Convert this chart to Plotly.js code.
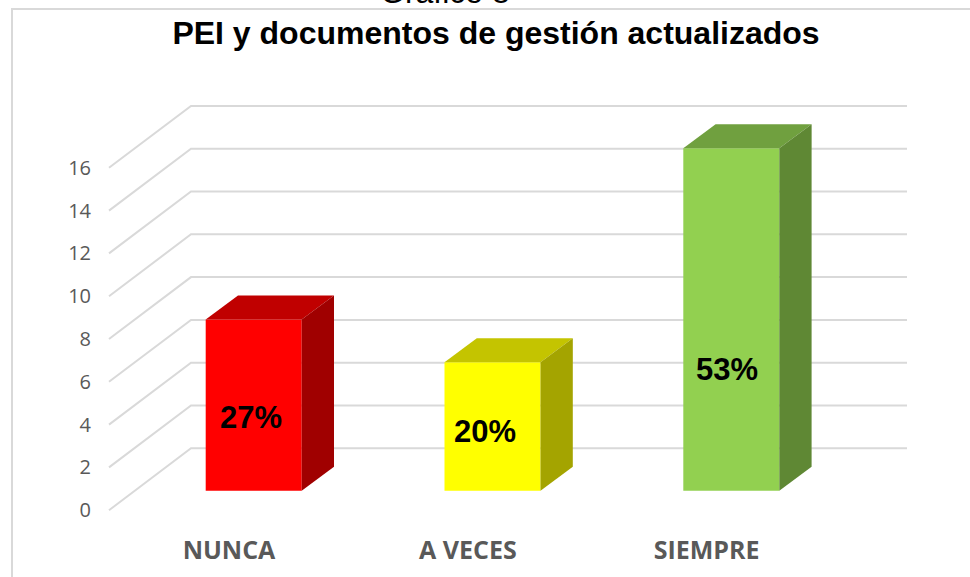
<!DOCTYPE html>
<html>
<head>
<meta charset="utf-8">
<script src="https://cdn.plot.ly/plotly-3.0.1.min.js"></script>
<style>html,body{margin:0;padding:0;background:#fff;}#chart{width:970px;height:577px;}</style>
</head>
<body>
<div id="chart"></div>
<script>
// ---- data ----
const categories = ['NUNCA', 'A VECES', 'SIEMPRE'];
const counts = [8, 6, 16];
const tickValues = [0, 2, 4, 6, 8, 10, 12, 14, 16];
const frontColors = ['#FF0000', '#FFFF00', '#92D050'];
const topColors = ['#C00000', '#C4C400', '#70A03F'];
const sideColors = ['#A00000', '#A4A400', '#5F8834'];
const chartTitle = 'PEI y documentos de gestión actualizados';
const caption = 'Gráfico 8';

// ---- geometry (pixels of the 970x577 figure) ----
const W = 970, H = 577;
const X0 = 253.7, XS = 238.8;     // px of first category (bar front centre), px per category
const Y0 = 490.7, YS = 21.4;      // px of value 0 at bar front, px per unit
const px2x = px => (px - X0) / XS;
const barWidth = 96 / XS;
const depthDx = 32.3 / XS, depthDy = 24 / YS;
const frontOff = (510.2 - Y0) / YS;   // floor front edge below bar base
const backOff = (Y0 - 448.3) / YS;    // back wall above bar base
const frontX = px2x(109), backX = px2x(191), wallEndX = px2x(907);
const labelY = [3.44, 2.78, 5.66];
const labelDx = [-0.01, -0.03, -0.02];
const catShift = -24.7 / XS;

const total = counts.reduce((a, b) => a + b, 0);
const xs = categories.map((_, i) => i);

const traces = [];
traces.push({
  type: 'bar', x: xs, y: counts, width: barWidth,
  marker: {color: frontColors, line: {width: 0}},
  hoverinfo: 'skip'
});
counts.forEach((v, i) => {
  const l = i - barWidth / 2, r = i + barWidth / 2;
  traces.push({
    type: 'scatter', mode: 'lines', fill: 'toself', fillcolor: topColors[i],
    line: {width: 0}, hoverinfo: 'skip',
    x: [l, r, r + depthDx, l + depthDx, l],
    y: [v, v, v + depthDy, v + depthDy, v]
  });
  traces.push({
    type: 'scatter', mode: 'lines', fill: 'toself', fillcolor: sideColors[i],
    line: {width: 0}, hoverinfo: 'skip',
    x: [r, r, r + depthDx, r + depthDx, r],
    y: [0, v, v + depthDy, depthDy, 0]
  });
});

const shapes = [];
shapes.push({
  type: 'rect', xref: 'paper', yref: 'paper', layer: 'below',
  x0: 12 / W, x1: 1.05, y0: -0.05, y1: 1 - 9 / H,
  line: {color: '#D9D9D9', width: 2}, fillcolor: 'rgba(0,0,0,0)'
});
tickValues.forEach(v => {
  shapes.push({
    type: 'path', xref: 'x', yref: 'y', layer: 'below',
    path: `M ${frontX},${v - frontOff} L ${backX},${v + backOff} L ${wallEndX},${v + backOff}`,
    line: {color: '#D9D9D9', width: 2}
  });
});

const annotations = counts.map((v, i) => ({
  x: i + labelDx[i], y: labelY[i], xref: 'x', yref: 'y',
  text: '<b>' + Math.round(100 * v / total) + '%</b>', showarrow: false,
  font: {family: 'Liberation Sans, Arial, sans-serif', size: 31, color: '#000000'},
  xanchor: 'center', yanchor: 'middle'
}));
annotations.push({
  x: 445 / W, y: 1 + 8 / H, xref: 'paper', yref: 'paper',
  text: caption, showarrow: false, xanchor: 'center', yanchor: 'middle',
  font: {family: 'Liberation Sans, Arial, sans-serif', size: 32, color: '#000000'}
});

const layout = {
  width: W, height: H,
  margin: {l: 0, r: 0, t: 0, b: 0, pad: 0},
  paper_bgcolor: '#FFFFFF', plot_bgcolor: 'rgba(0,0,0,0)',
  showlegend: false, hovermode: false,
  title: {
    text: '<b>' + chartTitle + '</b>',
    font: {family: 'Liberation Sans, Arial, sans-serif', size: 32, color: '#000000'},
    x: 496 / W, xanchor: 'center', y: 1 - 33 / H, yanchor: 'middle'
  },
  xaxis: {
    range: [-X0 / XS, (W - X0) / XS], showgrid: false, zeroline: false, showline: false,
    tickmode: 'array', tickvals: xs.map(i => i + catShift), ticktext: categories,
    ticks: '', anchor: 'free', position: 1 - 533 / H,
    tickfont: {family: 'Open Sans, sans-serif', size: 25, color: '#595959', weight: 'bold'},
    fixedrange: true
  },
  yaxis: {
    range: [-(H - Y0) / YS, Y0 / YS], showgrid: false, zeroline: false, showline: false,
    tickmode: 'array', tickvals: tickValues.map(v => v - frontOff), ticktext: tickValues.map(String),
    ticks: '', anchor: 'free', position: 91 / W,
    tickfont: {family: 'Open Sans, sans-serif', size: 20, color: '#595959'},
    fixedrange: true
  },
  shapes: shapes,
  annotations: annotations
};

Plotly.newPlot('chart', traces, layout, {displayModeBar: false, staticPlot: true});
</script>
</body>
</html>
